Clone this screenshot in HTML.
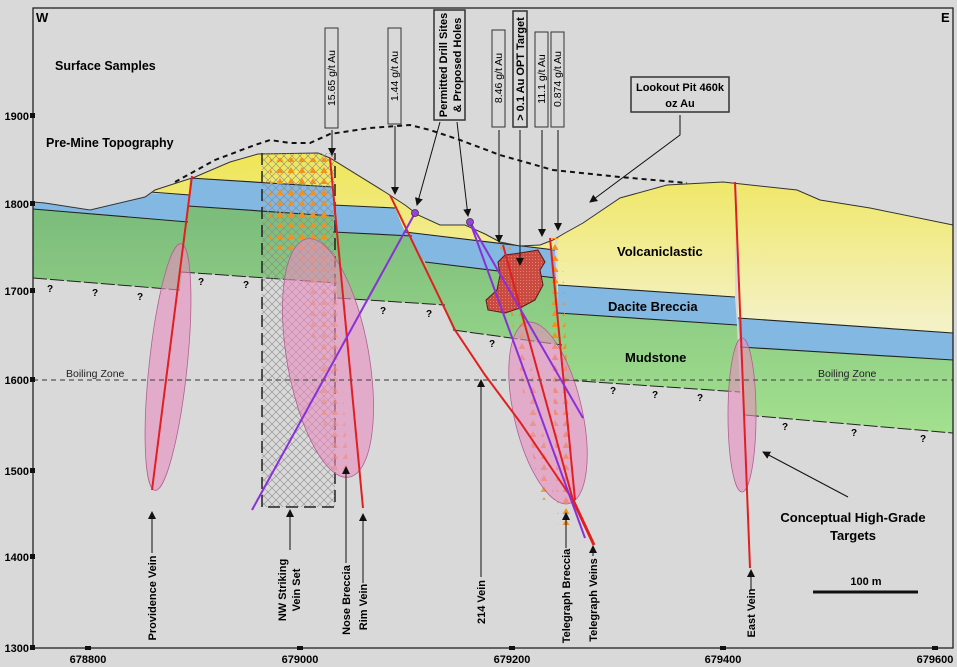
<!DOCTYPE html>
<html><head><meta charset="utf-8"><style>
html,body{margin:0;padding:0;background:#d9d9d9;}
svg{display:block;font-family:"Liberation Sans",sans-serif;}
.b{font-weight:bold;}
</style></head><body>
<svg width="957" height="667" viewBox="0 0 957 667" xmlns="http://www.w3.org/2000/svg">
<defs>
<linearGradient id="gy" gradientUnits="userSpaceOnUse" x1="0" y1="160" x2="0" y2="320"><stop offset="0" stop-color="#efe65a"/><stop offset="1" stop-color="#f4f1c4"/></linearGradient>
<linearGradient id="gg" gradientUnits="userSpaceOnUse" x1="0" y1="210" x2="0" y2="430"><stop offset="0" stop-color="#7cbc7c"/><stop offset="1" stop-color="#a2e08e"/></linearGradient>
<pattern id="hatch" width="8" height="8" patternUnits="userSpaceOnUse"><path d="M0 0L8 8M8 0L0 8" stroke="#888" stroke-width="0.6"/></pattern>
<pattern id="tri" width="11" height="11" patternUnits="userSpaceOnUse"><polygon points="5,2 8.5,8 1.5,8" fill="#f39020"/></pattern>
<pattern id="dots" width="3" height="3" patternUnits="userSpaceOnUse"><rect width="3" height="3" fill="#c84a40"/><circle cx="1.5" cy="1.5" r="0.6" fill="#e88070"/></pattern>
<marker id="ah" markerWidth="8" markerHeight="8" refX="7" refY="4" orient="auto" markerUnits="userSpaceOnUse"><path d="M0,0L8,4L0,8z" fill="#111"/></marker>
</defs>
<rect width="957" height="667" fill="#d9d9d9"/>
<polygon points="33,0 190,0 190,195 33,188" fill="url(#gy)"/>
<polygon points="33,188 190,195 188,222 33,209" fill="#82b8e2"/>
<polygon points="33,209 188,222 180,290 33,278" fill="url(#gg)"/>
<polygon points="190,0 333,0 333,187 190,178" fill="url(#gy)"/>
<polygon points="190,178 333,187 334,216 188,206" fill="#82b8e2"/>
<polygon points="188,206 334,216 337,283 181,272" fill="url(#gg)"/>
<polygon points="333,0 390,0 395,208 333,205" fill="url(#gy)"/>
<polygon points="333,205 395,208 412,236 333,232" fill="#82b8e2"/>
<polygon points="333,232 412,236 445,305 337,298" fill="url(#gg)"/>
<polygon points="390,0 555,0 555,250 405,232 395,208" fill="url(#gy)"/>
<polygon points="405,232 555,250 556,278 425,262" fill="#82b8e2"/>
<polygon points="425,262 556,278 562,345 453,330" fill="url(#gg)"/>
<polygon points="555,0 735,0 735,297 558,285" fill="url(#gy)"/>
<polygon points="558,285 735,297 737,325 558,313" fill="#82b8e2"/>
<polygon points="558,313 737,325 740,392 565,380" fill="url(#gg)"/>
<polygon points="735,0 953,0 953,333 738,318" fill="url(#gy)"/>
<polygon points="738,318 953,333 953,360 740,347" fill="#82b8e2"/>
<polygon points="740,347 953,360 953,433 745,415" fill="url(#gg)"/>
<g stroke="#222" stroke-width="1.1" fill="none">
<path d="M150,192L190,195M33,209L188,222M190,178L333,187M188,206L334,216M333,205L395,208M333,232L412,236M405,232L555,250M425,262L556,278M558,285L735,297M558,313L737,325M738,318L953,333M740,347L953,360"/>
</g>
<g stroke="#222" stroke-width="1" fill="none" stroke-dasharray="14,3">
<path d="M33,278L180,290M181,272L337,283M337,298L445,305M453,330L562,345M565,380L740,392M745,415L953,433"/>
</g>
<polygon points="0,0 957,0 957,225 953,225 870,208 820,200 797,190 723,182 667,185 620,198 583,223 565,233 553,240 540,245 520,246 500,242 485,234 465,225 440,225 418,215 405,205 385,192 330,158 318,153 258,154 230,162 195,177 155,190 145,197 90,210 45,203 33,202 0,202" fill="#d9d9d9"/>
<polyline points="33,202 45,203 90,210 145,197 155,190 195,177 230,162 258,154 318,153 330,158 385,192 405,205 418,215 440,225 465,225 485,234 500,242 520,246 540,245 553,240 565,233 583,223 620,198 667,185 723,182 797,190 820,200 870,208 953,225" fill="none" stroke="#333" stroke-width="1"/>
<rect x="262" y="153" width="73" height="354" fill="url(#hatch)"/>
<path d="M262,153V507H335V153" fill="none" stroke="#222" stroke-width="1.5" stroke-dasharray="12,6"/>
<rect x="270" y="158" width="60" height="100" fill="url(#tri)"/>
<polygon points="300,250 335,250 348,470 330,470" fill="url(#tri)" opacity="0.6"/>
<polygon points="548,238 562,238 573,525 558,525" fill="url(#tri)"/>
<polygon points="500,245 510,245 555,500 540,500" fill="url(#tri)" opacity="0.8"/>
<g fill="#e98cc0" fill-opacity="0.6" stroke="#b06090" stroke-width="0.8">
<ellipse cx="168" cy="367" rx="19" ry="124" transform="rotate(6 168 367)"/>
<ellipse cx="328" cy="358" rx="41" ry="121" transform="rotate(-10 328 358)"/>
<ellipse cx="548" cy="413" rx="34" ry="93" transform="rotate(-13 548 413)"/>
<ellipse cx="742" cy="415" rx="14" ry="77"/>
</g>
<polygon points="505,255 520,253 538,250 545,262 540,270 543,285 535,300 520,308 505,313 488,310 486,300 497,290 500,275 498,262" fill="url(#dots)" stroke="#5a1a1a" stroke-width="1"/>
<g stroke="#e02020" stroke-width="2" fill="none">
<path d="M192,176L152,490"/>
<path d="M330,158L363,508"/>
<path d="M390,195L455,330L485,375L520,422L573,500"/>
<path d="M503,245L573,500"/>
<path d="M550,238L575,500"/>
<path d="M573,500L594,545" stroke-width="3"/>
<path d="M735,182L750,568"/>
</g>
<g stroke="#8a30d8" stroke-width="2" fill="none">
<path d="M415,213L252,510"/>
<path d="M470,222L585,538"/>
<path d="M470,222L583,418"/>
</g>
<circle cx="415" cy="213" r="3.5" fill="#9a40e0" stroke="#333" stroke-width="0.8"/>
<circle cx="470" cy="222" r="3.5" fill="#9a40e0" stroke="#333" stroke-width="0.8"/>
<polyline points="175,182 215,160 255,145 270,140 290,143 310,143 330,134 370,128 410,125 430,130 460,140 500,155 553,170 620,177 687,183" fill="none" stroke="#111" stroke-width="2" stroke-dasharray="5,4"/>
<line x1="33" y1="380" x2="953" y2="380" stroke="#555" stroke-width="1.3" stroke-dasharray="5,4"/>
<text x="66" y="377" font-size="10.5" fill="#222">Boiling Zone</text>
<text x="818" y="377" font-size="10.5" fill="#222">Boiling Zone</text>
<rect x="33" y="8" width="920" height="640" fill="none" stroke="#222" stroke-width="1.3"/>
<text x="36" y="22" font-size="13" class="b">W</text>
<text x="941" y="22" font-size="13" class="b">E</text>
<g font-size="11" class="b" text-anchor="end">
<text x="29" y="120">1900</text><text x="29" y="208">1800</text><text x="29" y="295">1700</text>
<text x="29" y="384">1600</text><text x="29" y="475">1500</text><text x="29" y="561">1400</text><text x="29" y="652">1300</text>
</g>
<g fill="#111"><rect x="30" y="113" width="5" height="5"/><rect x="30" y="201" width="5" height="5"/><rect x="30" y="288" width="5" height="5"/><rect x="30" y="377" width="5" height="5"/><rect x="30" y="468" width="5" height="5"/><rect x="30" y="554" width="5" height="5"/><rect x="30" y="645" width="5" height="5"/>
<rect x="85" y="646" width="6" height="4"/><rect x="297" y="646" width="6" height="4"/><rect x="509" y="646" width="6" height="4"/><rect x="720" y="646" width="6" height="4"/><rect x="932" y="646" width="6" height="4"/></g>
<g font-size="11" class="b" text-anchor="middle">
<text x="88" y="663">678800</text><text x="300" y="663">679000</text><text x="512" y="663">679200</text><text x="723" y="663">679400</text><text x="935" y="663">679600</text>
</g>
<text x="55" y="70" font-size="12.5" class="b">Surface Samples</text>
<text x="46" y="147" font-size="12.5" class="b">Pre-Mine Topography</text>
<text x="617" y="256" font-size="13" class="b">Volcaniclastic</text>
<text x="608" y="311" font-size="13" class="b">Dacite Breccia</text>
<text x="625" y="362" font-size="13" class="b">Mudstone</text>
<g font-size="13" class="b" text-anchor="middle"><text x="853" y="522">Conceptual High-Grade</text><text x="853" y="540">Targets</text></g>
<text x="866" y="585" font-size="11" class="b" text-anchor="middle">100 m</text>
<line x1="813" y1="592" x2="918" y2="592" stroke="#111" stroke-width="3"/>
<g font-size="10" class="b">
<text x="47" y="292">?</text><text x="92" y="296">?</text><text x="137" y="300">?</text><text x="198" y="285">?</text><text x="243" y="288">?</text>
<text x="380" y="314">?</text><text x="426" y="317">?</text><text x="489" y="347">?</text><text x="610" y="394">?</text><text x="652" y="398">?</text><text x="697" y="401">?</text><text x="782" y="430">?</text><text x="851" y="436">?</text><text x="920" y="442">?</text>
</g>
<g fill="#d9d9d9" stroke="#333" stroke-width="1">
<rect x="325" y="28" width="13" height="100"/><rect x="388" y="28" width="13" height="96"/>
<rect x="434" y="10" width="31" height="110" stroke-width="1.5"/>
<rect x="492" y="30" width="13" height="97"/><rect x="513" y="11" width="14" height="116" stroke-width="1.5"/>
<rect x="535" y="32" width="13" height="95"/><rect x="551" y="32" width="13" height="95"/>
<rect x="631" y="77" width="98" height="35" stroke-width="1.5"/>
</g>
<g font-size="10.5" text-anchor="middle">
<text transform="translate(335,78) rotate(-90)">15.65 g/t Au</text>
<text transform="translate(398,76) rotate(-90)">1.44 g/t Au</text>
<text transform="translate(502,78) rotate(-90)">8.46 g/t Au</text>
<text transform="translate(545,79) rotate(-90)">11.1 g/t Au</text>
<text transform="translate(561,79) rotate(-90)">0.874 g/t Au</text>
</g>
<g font-size="11" class="b" text-anchor="middle">
<text transform="translate(447,65) rotate(-90)">Permitted Drill Sites</text>
<text transform="translate(461,65) rotate(-90)">&amp; Proposed Holes</text>
<text transform="translate(524,69) rotate(-90)">&gt; 0.1 Au OPT Target</text>
<text x="680" y="91">Lookout Pit 460k</text>
<text x="680" y="107">oz Au</text>
</g>
<g stroke="#111" stroke-width="1" fill="none" marker-end="url(#ah)">
<path d="M332,130L332,155"/><path d="M395,126L395,194"/>
<path d="M440,122L417,205"/><path d="M457,122L468,216"/>
<path d="M499,130L499,242"/><path d="M520,130L520,265"/>
<path d="M542,130L542,236"/><path d="M558,130L558,230"/>
<path d="M680,115L680,135L590,202"/>
<path d="M848,497L763,452"/>
<path d="M152,553L152,512"/><path d="M290,550L290,510"/><path d="M346,563L346,467"/><path d="M363,583L363,514"/>
<path d="M481,577L481,380"/><path d="M566,548L566,513"/><path d="M593,556L593,546"/><path d="M751,590L751,570"/>
</g>
<g font-size="11" class="b" text-anchor="middle">
<text transform="translate(156,598) rotate(-90)">Providence Vein</text>
<text transform="translate(286,590) rotate(-90)">NW Striking</text>
<text transform="translate(300,590) rotate(-90)">Vein Set</text>
<text transform="translate(350,600) rotate(-90)">Nose Breccia</text>
<text transform="translate(367,607) rotate(-90)">Rim Vein</text>
<text transform="translate(485,602) rotate(-90)">214 Vein</text>
<text transform="translate(570,596) rotate(-90)">Telegraph Breccia</text>
<text transform="translate(597,600) rotate(-90)">Telegraph Veins</text>
<text transform="translate(755,613) rotate(-90)">East Vein</text>
</g>
</svg>
</body></html>
